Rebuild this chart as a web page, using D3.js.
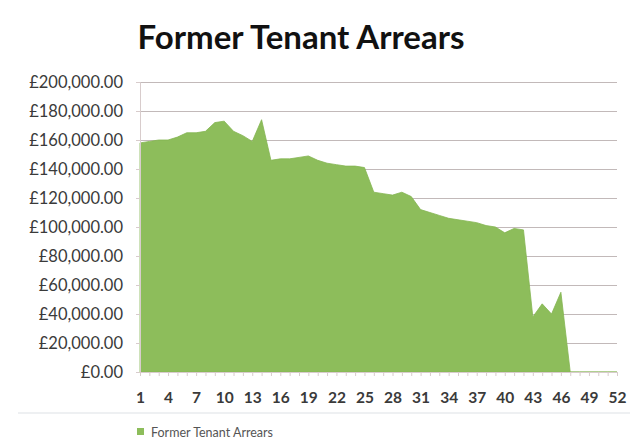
<!DOCTYPE html>
<html>
<head>
<meta charset="utf-8">
<script src="https://cdn.jsdelivr.net/npm/d3@7"></script>
<style>
  body { margin: 0; background: #ffffff; }
  text { font-family: Lato, "Open Sans", sans-serif; }
</style>
</head>
<body>
<script>
const width = 643
const height = 439
const area_color = "#8dbd5b"
const grid_color = "#c2b9b9"
const text_color = "#3a3a3a"

// week number 1..52
const weeks = d3.range(1, 53)
const arrears = [
  158000, 159000, 160000, 160000, 162000, 165000, 165000, 166000, 172000, 173000,
  166000, 163000, 159000, 174000, 146000, 147000, 147000, 148000, 149000, 146000,
  144000, 143000, 142000, 142000, 141000, 124000, 123000, 122000, 124000, 121000,
  112000, 110000, 108000, 106000, 105000, 104000, 103000, 101000, 100000, 96000,
  99000, 98000, 38000, 47000, 40000, 55000, 0, 0, 0, 0, 0, 0
]
const y_ticks = [0, 20000, 40000, 60000, 80000, 100000, 120000, 140000, 160000, 180000, 200000]
const x_labels = d3.range(1, 53, 3)
const title = "Former Tenant Arrears"
const series_name = "Former Tenant Arrears"

var svg = d3.select("body").append("svg")
  .attr("width", width)
  .attr("height", height)

var x = d3.scalePoint().domain(weeks).range([140, 617])
var y = d3.scaleLinear().domain([0, 200000]).range([372, 82])

// gridlines
svg.append("g")
  .attr("transform", "translate(140,0)")
  .call(d3.axisRight(y).tickValues(y_ticks.slice(1)).tickSize(477).tickFormat(""))
  .call(g => g.select(".domain").remove())
  .call(g => g.selectAll("line").attr("stroke", grid_color).attr("stroke-width", 1.2))

// area
var area = d3.area()
  .x((d, i) => x(weeks[i]))
  .y0(y(0))
  .y1(d => y(d))

svg.append("path")
  .datum(arrears)
  .attr("d", area)
  .attr("fill", area_color)
  .attr("stroke", "#84b552")
  .attr("stroke-width", 0.8)

// y axis
svg.append("g")
  .attr("transform", "translate(140,0)")
  .call(d3.axisLeft(y).tickValues(y_ticks).tickSize(4).tickPadding(13)
    .tickFormat(d => "£" + d3.format(",.2f")(d)))
  .call(g => g.select(".domain").attr("stroke", "#d8cccc"))
  .call(g => g.selectAll("line").attr("stroke", "#d8cccc"))
  .call(g => g.selectAll("text").attr("fill", text_color).style("font-size", "16.5px"))

// x axis
svg.append("g")
  .attr("transform", "translate(0,372)")
  .call(d3.axisBottom(x).tickSize(4).tickPadding(16)
    .tickFormat(d => x_labels.includes(d) ? d : ""))
  .call(g => g.select(".domain").attr("stroke", "#d8cccc"))
  .call(g => g.selectAll("line").attr("stroke", "#d8cccc"))
  .call(g => g.selectAll("text").attr("fill", text_color).style("font-size", "15.5px").style("font-weight", "bold"))

// title
svg.append("text")
  .attr("x", 301)
  .attr("y", 49)
  .attr("text-anchor", "middle")
  .style("font-size", "33px")
  .style("font-weight", "bold")
  .attr("fill", "#111")
  .text(title)

// faint frame line under the chart
svg.append("line")
  .attr("x1", 18).attr("x2", 630)
  .attr("y1", 413).attr("y2", 413)
  .attr("stroke", "#eef0f2")
  .attr("stroke-width", 2)

// legend
svg.append("rect")
  .attr("x", 137).attr("y", 428)
  .attr("width", 7).attr("height", 7)
  .attr("fill", area_color)

svg.append("text")
  .attr("x", 151)
  .attr("y", 437)
  .style("font-size", "12.5px")
  .attr("fill", "#555")
  .text(series_name)
</script>
</body>
</html>
